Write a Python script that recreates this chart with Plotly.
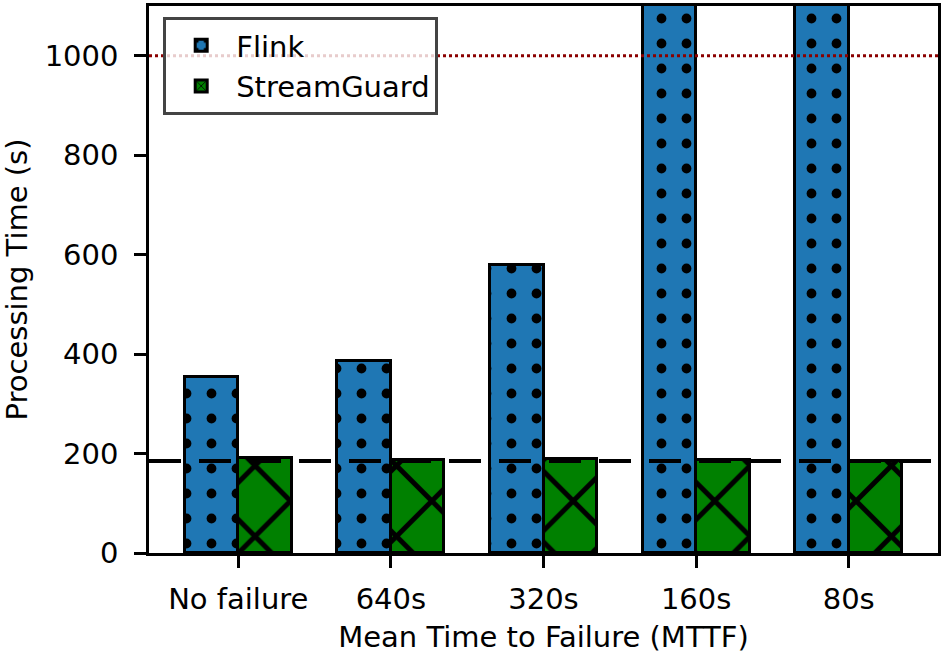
import plotly.graph_objects as go

categories = ["No failure", "640s", "320s", "160s", "80s"]
flink = [353, 387, 579, 1200, 1200]
streamguard = [191, 188, 190, 187, 186]
baseline = 185
timeout = 1000
y_ticks = [0, 200, 400, 600, 800, 1000]

x_idx = list(range(len(categories)))
w = 0.35
font = dict(family="DejaVu Sans", size=29, color="black")

fig = go.Figure()
fig.add_trace(go.Bar(
    x=[i - w / 2 for i in x_idx], y=flink, width=w, name="Flink",
    marker=dict(color="#1f77b4", line=dict(color="black", width=3),
                pattern=dict(shape=".", fgcolor="black", fgopacity=1, bgcolor="#1f77b4",
                             size=25, solidity=0.12)),
))
fig.add_trace(go.Bar(
    x=[i + w / 2 for i in x_idx], y=streamguard, width=w, name="StreamGuard",
    marker=dict(color="green", line=dict(color="black", width=3),
                pattern=dict(shape="x", fgcolor="black", fgopacity=1, bgcolor="green",
                             size=50, solidity=0.19)),
))

fig.add_shape(type="line", xref="paper", yref="y", x0=0, x1=1, y0=timeout, y1=timeout,
              line=dict(color="#8b0000", width=3, dash="dot"), layer="above")
fig.add_shape(type="line", xref="paper", yref="y", x0=0, x1=1, y0=baseline, y1=baseline,
              line=dict(color="black", width=4, dash="32px,18px"), layer="above")

fig.update_layout(
    width=944, height=654,
    margin=dict(l=149, r=4, t=3, b=101),
    plot_bgcolor="white", paper_bgcolor="white",
    font=font, showlegend=True, barmode="overlay", bargap=0,
    legend=dict(x=0.018, y=0.98, xanchor="left", yanchor="top",
                bgcolor="rgba(255,255,255,0.8)", bordercolor="#444", borderwidth=3,
                font=dict(family="DejaVu Sans", size=29), tracegroupgap=10,
                itemwidth=60),
)
fig.update_xaxes(
    range=[-0.585, 4.585], tickmode="array", tickvals=x_idx, ticktext=categories,
    showline=True, mirror=True, linecolor="black", linewidth=2.5,
    ticks="outside", ticklen=12, tickwidth=2.5, tickcolor="black",
    showgrid=False, zeroline=False, ticklabelstandoff=6,
    title=dict(text="Mean Time to Failure (MTTF)", font=font, standoff=14),
    tickfont=font,
)
fig.update_yaxes(
    range=[0, 1100], tickmode="array", tickvals=y_ticks,
    showline=True, mirror=True, linecolor="black", linewidth=2.5,
    ticks="outside", ticklen=12, tickwidth=2.5, tickcolor="black",
    showgrid=False, zeroline=False, ticklabelstandoff=10,
    title=dict(text="Processing Time (s)", font=font, standoff=18),
    tickfont=font,
)
fig.write_html("out.html")
